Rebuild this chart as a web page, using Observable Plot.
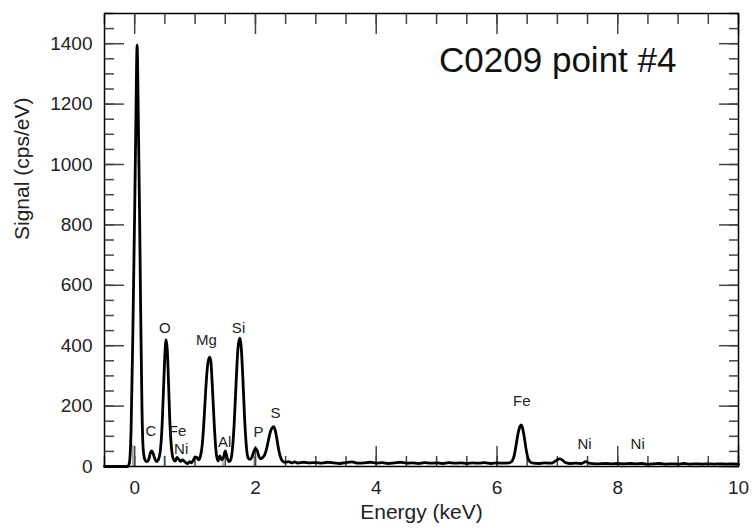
<!DOCTYPE html>
<html><head><meta charset="utf-8">
<script src="https://cdn.jsdelivr.net/npm/d3@7"></script>
<script src="https://cdn.jsdelivr.net/npm/@observablehq/plot@0.6"></script>
<style>body{margin:0;background:#fff}</style>
</head><body><div id="chart"></div>
<script>
// EDS spectrum: [energy keV, signal cps/eV]
const spectrum = [
  [-0.5,0],[-0.12,0],[-0.09,10],[-0.06,120],[-0.03,450],[0.00,850],[0.02,1150],[0.04,1395],[0.06,1150],[0.08,850],[0.10,500],[0.12,200],[0.14,60],[0.17,22],[0.20,16],
  [0.23,22],[0.26,45],[0.28,52],[0.30,46],[0.33,28],[0.36,16],[0.39,22],
  [0.42,45],[0.45,120],[0.48,270],[0.50,370],[0.52,420],[0.54,385],[0.56,280],[0.58,160],[0.61,60],[0.64,25],[0.67,18],
  [0.70,30],[0.73,24],[0.76,17],[0.79,22],[0.82,18],[0.85,12],[0.88,10],[0.91,16],[0.94,12],[0.97,20],[1.00,32],[1.03,30],[1.06,22],[1.09,35],
  [1.12,75],[1.15,160],[1.18,265],[1.21,340],[1.24,362],[1.26,350],[1.29,250],[1.32,130],[1.35,45],[1.38,18],[1.41,35],[1.44,22],[1.47,30],[1.50,52],[1.53,30],[1.56,16],[1.59,22],
  [1.62,60],[1.65,150],[1.68,280],[1.71,390],[1.74,425],[1.76,405],[1.79,300],[1.82,160],[1.85,65],[1.88,28],[1.91,24],[1.94,30],[1.97,48],[2.00,60],[2.03,52],[2.06,32],[2.09,26],[2.12,30],
  [2.15,38],[2.18,55],[2.21,82],[2.24,110],[2.27,126],[2.30,132],[2.33,118],[2.36,85],[2.39,50],[2.42,28],[2.45,18],[2.50,14],[2.55,16],[2.60,12],[2.65,15],[2.70,11],
  [2.80,14],[2.90,12],[3.00,13],[3.10,11],[3.20,14],[3.30,12],[3.40,10],[3.50,13],[3.60,15],[3.70,11],[3.80,12],[3.90,14],[4.00,11],[4.10,13],[4.20,10],[4.30,12],[4.40,14],[4.50,11],
  [4.60,12],[4.70,10],[4.80,13],[4.90,11],[5.00,12],[5.10,10],[5.20,13],[5.30,11],[5.40,12],[5.50,10],[5.60,12],[5.70,11],[5.80,13],[5.90,10],[6.00,12],[6.10,11],[6.20,12],
  [6.25,18],[6.29,40],[6.32,75],[6.35,110],[6.38,132],[6.40,138],[6.42,130],[6.45,100],[6.48,60],[6.51,30],[6.55,15],[6.60,11],[6.70,10],[6.80,12],[6.90,11],
  [6.97,18],[7.03,25],[7.08,22],[7.13,13],[7.20,10],[7.30,11],[7.40,10],[7.47,16],[7.54,10],[7.65,9],[7.80,10],[7.90,9],[8.00,10],[8.10,9],[8.20,10],[8.30,9],[8.40,10],
  [8.50,8],[8.60,9],[8.70,10],[8.80,8],[8.90,9],[9.00,8],[9.10,10],[9.20,8],[9.30,9],[9.40,8],[9.50,9],[9.60,8],[9.70,9],[9.80,8],[9.90,9],[10.0,8]
];

// element labels
const labelText = ["O","Mg","Si","C","Fe","Ni","Al","P","S","Fe","Ni","Ni"];
const labelX    = [0.50, 1.19, 1.72, 0.27, 0.71, 0.77, 1.49, 2.05, 2.33, 6.41, 7.45, 8.33];
const labelY    = [457, 417, 457, 117, 118, 56, 82, 114, 177, 216, 75, 75];

// faint marker lines
const markerE = [-0.03, 0.49, 1.46, 1.98];
const markerH = [70, 34, 31, 31];

// axis ticks
const xMajor = [0, 2, 4, 6, 8, 10];
const xMinor = d3.range(-0.5, 10.01, 0.5);
const yMajor = [0, 200, 400, 600, 800, 1000, 1200, 1400];
const yMinor = d3.range(0, 1501, 50);

const title = "C0209 point #4";
const xLabel = "Energy (keV)";
const yLabel = "Signal (cps/eV)";

const labels = labelText.map((t, i) => ({t, x: labelX[i], y: labelY[i]}));
const markers = markerE.map((e, i) => ({e, h: markerH[i]}));
const tickStyle = {stroke: "#444", strokeWidth: 1.5, fill: "none", label: null};
const fmt = d3.format("d");

const chart = Plot.plot({
  width: 754, height: 528,
  marginLeft: 104, marginRight: 16, marginTop: 13, marginBottom: 62,
  style: {fontFamily: "'Liberation Sans', Arial, Helvetica, sans-serif", background: "white", color: "black"},
  x: {domain: [-0.5, 10]},
  y: {domain: [0, 1500]},
  marks: [
    Plot.ruleX(markers, {x: "e", y1: 0, y2: "h", stroke: "#999", strokeWidth: 1.5}),
    Plot.axisX(xMinor, {anchor: "bottom", tickSize: -10, ...tickStyle}),
    Plot.axisX(xMajor, {anchor: "bottom", tickSize: -20, ...tickStyle}),
    Plot.axisX(xMinor, {anchor: "top", tickSize: -10, ...tickStyle}),
    Plot.axisX(xMajor, {anchor: "top", tickSize: -20, ...tickStyle}),
    Plot.axisY(yMinor, {anchor: "left", tickSize: -10, ...tickStyle}),
    Plot.axisY(yMajor, {anchor: "left", tickSize: -20, ...tickStyle}),
    Plot.axisY(yMinor, {anchor: "right", tickSize: -10, ...tickStyle}),
    Plot.axisY(yMajor, {anchor: "right", tickSize: -20, ...tickStyle}),
    Plot.axisX(xMajor, {anchor: "bottom", tickSize: 0, tickPadding: 14, fontSize: 19, tickFormat: fmt, label: null, fill: "#222"}),
    Plot.axisY(yMajor, {anchor: "left", tickSize: 0, tickPadding: 12, fontSize: 19, tickFormat: fmt, label: null, fill: "#222"}),
    Plot.line(spectrum, {x: d => d[0], y: d => d[1], stroke: "black", strokeWidth: 2.8, curve: "monotone-x"}),
    Plot.text(labels, {x: "x", y: "y", text: "t", fontSize: 15, fill: "#222"}),
    Plot.frame({stroke: "black", strokeWidth: 1.5}),
    Plot.text([title], {text: d => d, frameAnchor: "top-right", textAnchor: "end", lineAnchor: "top", dx: -62, dy: 34, fontSize: 35, fill: "#111"}),
    Plot.text([xLabel], {text: d => d, frameAnchor: "bottom", lineAnchor: "middle", dy: 46, fontSize: 21, fill: "#222"}),
    Plot.text([yLabel], {text: d => d, frameAnchor: "left", rotate: -90, lineAnchor: "middle", dx: -82, fontSize: 21, fill: "#222"})
  ]
});
document.getElementById("chart").appendChild(chart);
</script>
</body></html>
